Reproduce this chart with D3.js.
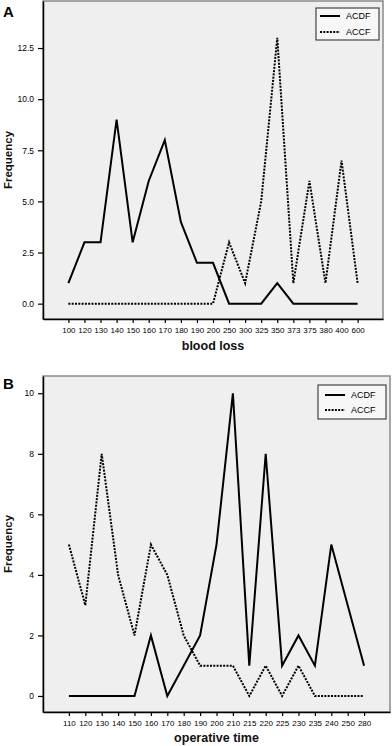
<!DOCTYPE html>
<html>
<head>
<meta charset="utf-8">
<script src="https://cdn.jsdelivr.net/npm/d3@7"></script>
<style>
  html, body { margin: 0; padding: 0; background: #fff; }
  svg { display: block; font-family: "Liberation Sans", Arial, sans-serif; }
</style>
</head>
<body>
<svg id="chart" width="392" height="746"></svg>
<script>
// ---- Data ----
const bloodLossCategories = ["100","120","130","140","150","160","170","180","190","200","250","300","325","350","373","375","380","400","600"];
const bloodLossACDF = [1,3,3,9,3,6,8,4,2,2,0,0,0,1,0,0,0,0,0];
const bloodLossACCF = [0,0,0,0,0,0,0,0,0,0,3,1,5,13,1,6,1,7,1];
const bloodLossYTicks = [0,2.5,5,7.5,10,12.5];

const opTimeCategories = ["110","120","130","140","150","160","170","180","190","200","210","215","220","225","230","235","240","250","280"];
const opTimeACDF = [0,0,0,0,0,2,0,1,2,5,10,1,8,1,2,1,5,3,1];
const opTimeACCF = [5,3,8,4,2,5,4,2,1,1,1,0,1,0,1,0,0,0,0];
const opTimeYTicks = [0,2,4,6,8,10];

const seriesNames = ["ACDF","ACCF"];

// ---- Drawing ----
const svg = d3.select("#chart");

function panel(cfg) {
  const g = svg.append("g");
  const x = d3.scalePoint().domain(cfg.categories).range([cfg.left, cfg.right]).padding(1.58);
  const y = d3.scaleLinear().domain(cfg.yDomain).range([cfg.bottom, cfg.top]);

  // plot background + frame
  g.append("rect")
    .attr("x", cfg.left).attr("y", cfg.top)
    .attr("width", cfg.right - cfg.left).attr("height", cfg.bottom - cfg.top)
    .attr("fill", "#efefef").attr("stroke", "#8a8a8a").attr("stroke-width", 1.5);

  // y axis
  const ya = g.append("g").attr("transform", `translate(${cfg.left},0)`)
    .call(d3.axisLeft(y).tickValues(cfg.yTicks).tickFormat(cfg.yFormat).tickSize(5).tickSizeOuter(0).tickPadding(4));
  ya.select(".domain").attr("stroke", "#000").attr("stroke-width", 1.5);
  ya.selectAll(".tick line").attr("stroke", "#000").attr("stroke-width", 1.2);
  ya.selectAll("text").attr("font-size", 8.5).attr("fill", "#000").attr("font-family", "Liberation Sans, Arial, sans-serif");

  // x axis
  const xa = g.append("g").attr("transform", `translate(0,${cfg.bottom})`)
    .call(d3.axisBottom(x).tickSize(4).tickSizeOuter(0).tickPadding(4));
  xa.select(".domain").attr("stroke", "#000").attr("stroke-width", 1.5);
  xa.selectAll(".tick line").attr("stroke", "#000").attr("stroke-width", 1.2);
  xa.selectAll("text").attr("font-size", 8).attr("fill", "#000").attr("font-family", "Liberation Sans, Arial, sans-serif");

  // lines
  const line = d3.line().x((d, i) => x(cfg.categories[i])).y(d => y(d));
  g.append("path").datum(cfg.acdf).attr("d", line)
    .attr("fill", "none").attr("stroke", "#000").attr("stroke-width", 2).attr("stroke-linejoin", "miter");
  g.append("path").datum(cfg.accf).attr("d", line)
    .attr("fill", "none").attr("stroke", "#000").attr("stroke-width", 2).attr("stroke-dasharray", "2,1.3");

  // legend
  const lg = g.append("g");
  lg.append("rect")
    .attr("x", cfg.legend.x).attr("y", cfg.legend.y)
    .attr("width", cfg.legend.w).attr("height", cfg.legend.h)
    .attr("fill", "#f7f7f7").attr("stroke", "#444").attr("stroke-width", 1.2);
  seriesNames.forEach((name, i) => {
    const ry = cfg.legend.y + cfg.legend.rowY[i];
    lg.append("line")
      .attr("x1", cfg.legend.x + cfg.legend.sx).attr("x2", cfg.legend.x + cfg.legend.sx + 20)
      .attr("y1", ry).attr("y2", ry)
      .attr("stroke", "#000").attr("stroke-width", 2)
      .attr("stroke-dasharray", i === 1 ? "2,1.3" : null);
    lg.append("text")
      .attr("x", cfg.legend.x + cfg.legend.tx).attr("y", ry).attr("dy", "0.35em")
      .attr("font-size", 9).attr("fill", "#000").text(name);
  });

  // titles
  g.append("text").attr("x", (cfg.left + cfg.right) / 2).attr("y", cfg.xTitleY)
    .attr("text-anchor", "middle").attr("font-weight", "bold").attr("font-size", 12.5)
    .attr("fill", "#111").text(cfg.xTitle);
  g.append("text")
    .attr("transform", `translate(12,${(cfg.top + cfg.bottom) / 2}) rotate(-90)`)
    .attr("text-anchor", "middle").attr("font-weight", "bold").attr("font-size", 11.5)
    .attr("fill", "#111").text("Frequency");
  g.append("text").attr("x", 3).attr("y", cfg.letterY)
    .attr("font-weight", "bold").attr("font-size", 15).attr("fill", "#000").text(cfg.letter);
}

panel({
  categories: bloodLossCategories, acdf: bloodLossACDF, accf: bloodLossACCF,
  yTicks: bloodLossYTicks, yFormat: d3.format(".1f"), yDomain: [-0.75, 14.8],
  left: 43, right: 383, top: 1, bottom: 319,
  legend: { x: 316, y: 8, w: 63, h: 32, rowY: [8, 24], sx: 4, tx: 30 },
  xTitle: "blood loss", xTitleY: 350, letter: "A", letterY: 17
});

panel({
  categories: opTimeCategories, acdf: opTimeACDF, accf: opTimeACCF,
  yTicks: opTimeYTicks, yFormat: d3.format("d"), yDomain: [-0.53, 10.57],
  left: 43, right: 390, top: 376, bottom: 712,
  legend: { x: 318, y: 385, w: 68, h: 34, rowY: [10, 25], sx: 7, tx: 33 },
  xTitle: "operative time", xTitleY: 742, letter: "B", letterY: 389
});
</script>
</body>
</html>
